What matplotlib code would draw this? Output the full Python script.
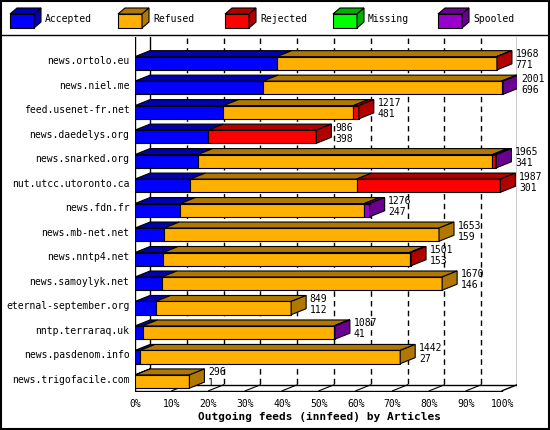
import matplotlib
matplotlib.use('Agg')
import matplotlib.pyplot as plt
from matplotlib.patches import Polygon, Rectangle

# data (articles)
hosts = ['news.ortolo.eu', 'news.niel.me', 'feed.usenet-fr.net', 'news.daedelys.org',
         'news.snarked.org', 'nut.utcc.utoronto.ca', 'news.fdn.fr', 'news.mb-net.net',
         'news.nntp4.net', 'news.samoylyk.net', 'eternal-september.org', 'nntp.terraraq.uk',
         'news.pasdenom.info', 'news.trigofacile.com']
accepted = [771, 696, 481, 398, 341, 301, 247, 159, 153, 146, 112, 41, 27, 1]
refused = [1195, 1297, 706, 0, 1602, 904, 1000, 1494, 1340, 1524, 737, 1040, 1415, 295]
rejected = [2, 0, 30, 588, 16, 782, 0, 0, 8, 0, 0, 0, 0, 0]
missing = [0, 0, 0, 0, 0, 0, 0, 0, 0, 0, 0, 0, 0, 0]
spooled = [0, 8, 0, 0, 6, 0, 29, 0, 0, 0, 0, 6, 0, 0]
totals = [1968, 2001, 1217, 986, 1965, 1987, 1276, 1653, 1501, 1670, 849, 1087, 1442, 296]
series = ['Accepted', 'Refused', 'Rejected', 'Missing', 'Spooled']
front = ['#0000ff', '#ffb000', '#ff0000', '#00ff00', '#9900cc']
dark = ['#0000b0', '#b07800', '#b00000', '#00b000', '#6a0090']

plt.rcParams['font.family'] = 'DejaVu Sans Mono'
fig = plt.figure(figsize=(5.5, 4.3), dpi=100)
fig.patches.append(Rectangle((0.002, 0.002), 0.996, 0.996, transform=fig.transFigure,
                             fill=False, ec='black', lw=1.5))

maxv = max(totals)
W = 382  # axes width px
xmax = maxv * W / 368
ax = fig.add_axes([135 / 550, 38 / 430, W / 550, 355 / 430])
n = len(hosts)
ax.set_xlim(0, xmax)
ax.set_ylim(n - 0.45, -0.95)
ax.axis('off')
DX = 15 * xmax / W
DY = 6 * (n + 0.5) / 355
h = 0.54

# back grid
for p in range(1, 10):
    x = maxv * p / 10
    ax.plot([x + DX, x + DX], [-0.9, n - 0.5 - DY], ls=(0, (4, 3)), color='black', lw=1, zorder=1)
    ax.plot([x, x + DX], [n - 0.5, n - 0.5 - DY], color='black', lw=0.8, zorder=1)
ax.plot([xmax, xmax], [-0.95, n - 0.5 - DY], color='black', lw=1, zorder=1)
ax.plot([DX, DX], [-0.95, n - 0.5 - DY], color='black', lw=1, zorder=1)
ax.plot([0, 0], [-0.95, n - 0.5], color='black', lw=1, zorder=1)
ax.plot([DX, xmax], [n - 0.5 - DY, n - 0.5 - DY], color='black', lw=1, zorder=1)
ax.plot([0, xmax - DX], [n - 0.5, n - 0.5], color='black', lw=1, zorder=1)
ax.plot([xmax - DX, xmax], [n - 0.5, n - 0.5 - DY], color='black', lw=1, zorder=1)
ax.plot([-DX, 0], [n - 0.5 + DY, n - 0.5], color='black', lw=1, zorder=1)

vals = list(zip(accepted, refused, rejected, missing, spooled))
for i in range(n):
    y0, y1 = i - h / 2 + DY / 2, i + h / 2 + DY / 2
    x = 0
    last = 0
    for k, v in enumerate(vals[i]):
        if v <= 0:
            continue
        ax.add_patch(Rectangle((x, y0), v, h, fc=front[k], ec='black', lw=0.8, zorder=3))
        ax.add_patch(Polygon([(x, y0), (x + DX, y0 - DY), (x + v + DX, y0 - DY), (x + v, y0)],
                             fc=dark[k], ec='black', lw=0.8, zorder=2))
        x += v
        last = k
    ax.add_patch(Polygon([(x, y0), (x + DX, y0 - DY), (x + DX, y1 - DY), (x, y1)],
                         fc=dark[last], ec='black', lw=0.8, zorder=3))
    ax.text(x + DX + 20, i - 0.25, str(totals[i]), fontsize=7, va='center', zorder=4)
    ax.text(x + DX + 20, i + 0.2, str(accepted[i]), fontsize=7, va='center', zorder=4)
    ax.text(-30, i + 0.05, hosts[i], fontsize=7, ha='right', va='center')

for p in range(0, 11):
    ax.text(maxv * p / 10, n - 0.15, f'{p * 10}%', fontsize=7, ha='center', va='top')
ax.text(maxv * 0.5, n + 0.35, 'Outgoing feeds (innfeed) by Articles', fontsize=8,
        fontweight='bold', ha='center', va='top')

# legend
lx = [10, 118, 225, 333, 438]
for k, name in enumerate(series):
    x0 = lx[k] / 550
    y0 = 1 - 28 / 430
    w, hh, d = 24 / 550, 14 / 430, 7
    fig.patches.append(Rectangle((x0, y0), w, hh, transform=fig.transFigure,
                                 fc=front[k], ec='black', lw=0.8))
    fig.patches.append(Polygon([(x0, y0 + hh), (x0 + d / 550, y0 + hh + 6 / 430),
                                (x0 + w + d / 550, y0 + hh + 6 / 430), (x0 + w, y0 + hh)],
                               transform=fig.transFigure, fc=dark[k], ec='black', lw=0.8))
    fig.patches.append(Polygon([(x0 + w, y0), (x0 + w + d / 550, y0 + 6 / 430),
                                (x0 + w + d / 550, y0 + hh + 6 / 430), (x0 + w, y0 + hh)],
                               transform=fig.transFigure, fc=dark[k], ec='black', lw=0.8))
    fig.text(x0 + 35 / 550, y0 + hh / 2 + 2 / 430, name, fontsize=7, va='center')
fig.lines.append(plt.Line2D([0, 1], [1 - 35 / 430] * 2, transform=fig.transFigure,
                            color='black', lw=1))

fig.savefig('out.png', dpi=100)
